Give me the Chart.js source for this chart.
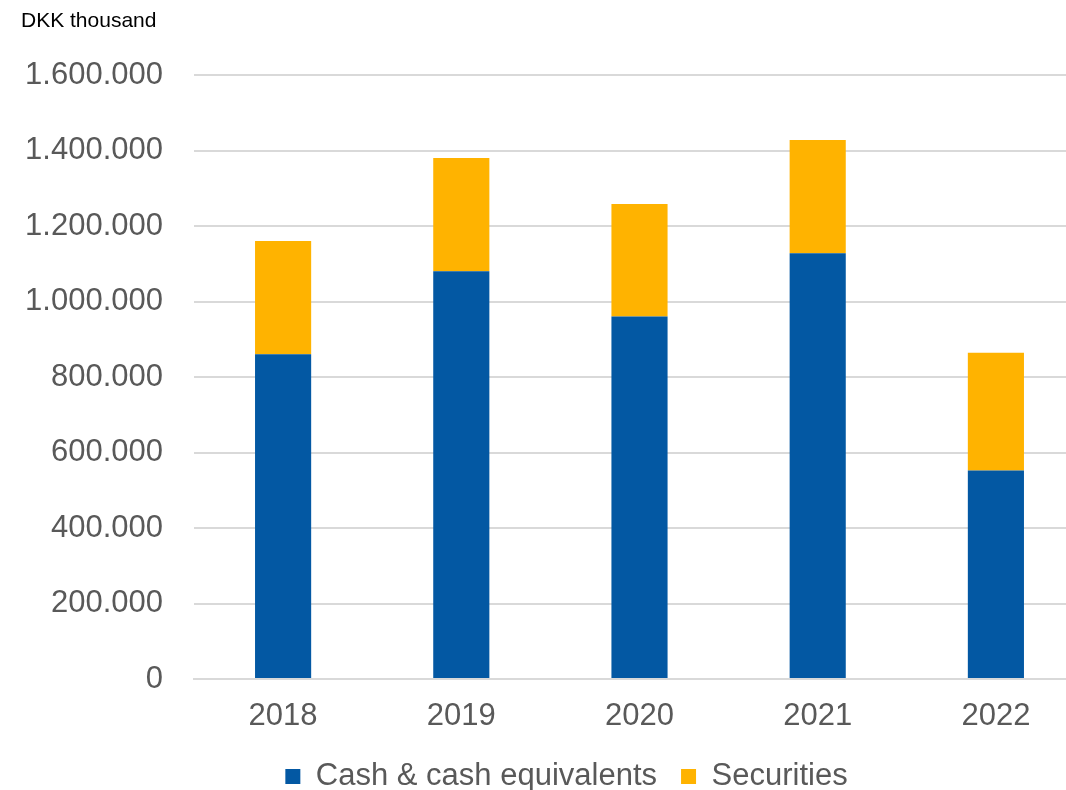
<!DOCTYPE html>
<html lang="en">
  <head>
    <meta charset="UTF-8" />
    <title>Cash and securities</title>
    <script src="https://cdn.jsdelivr.net/npm/chart.js"></script>
    <style>
      html,
      body {
        margin: 0;
        padding: 0;
        overflow: hidden;
        background: #ffffff;
      }
      #wrap {
        position: relative;
        width: 1085px;
        height: 790px;
      }
      #unit {
        position: absolute;
        left: 21px;
        top: 8px;
        font-family: "Liberation Sans", Arial, sans-serif;
        font-size: 21px;
        color: #000000;
      }
    </style>
  </head>
  <body>
    <div id="wrap">
      <canvas id="my-chart" width="1085" height="790"></canvas>
      <div id="unit">DKK thousand</div>
    </div>

    <script>
      const years = ["2018", "2019", "2020", "2021", "2022"];
      const cash = [860000, 1080000, 960000, 1128000, 552000];
      const securities = [300000, 300000, 298000, 300000, 312000];
      const yTicks = [0, 200000, 400000, 600000, 800000, 1000000, 1200000, 1400000, 1600000];

      // Danish style thousands separator
      function formatDK(value) {
        return String(value).replace(/\B(?=(\d{3})+(?!\d))/g, ".");
      }

      // nudge the legend a bit to the right, like in the original
      const legendShift = {
        id: "legendShift",
        afterLayout(chart) {
          chart.legend.left += 24;
          chart.legend.right += 24;
        },
      };

      const ctx = document.getElementById("my-chart").getContext("2d");
      const myChart = new Chart(ctx, {
        type: "bar",
        data: {
          labels: years,
          datasets: [
            {
              label: "Cash & cash equivalents",
              data: cash,
              backgroundColor: "#0358A3",
              barPercentage: 0.315,
              categoryPercentage: 1,
            },
            {
              label: "Securities",
              data: securities,
              backgroundColor: "#FFB300",
              barPercentage: 0.315,
              categoryPercentage: 1,
            },
          ],
        },
        options: {
          responsive: false,
          animation: false,
          layout: {
            padding: { left: 0, right: 0, top: 75, bottom: -12 },
          },
          plugins: {
            tooltip: { enabled: false },
            legend: {
              position: "bottom",
              labels: {
                boxWidth: 15,
                boxHeight: 15,
                padding: 24,
                color: "#595959",
                font: { family: "'Liberation Sans', Arial, sans-serif", size: 31 },
              },
            },
          },
          scales: {
            x: {
              stacked: true,
              afterFit: function (axis) {
                axis.height = 58;
              },
              grid: { display: false, drawTicks: false },
              border: { color: "#D9D9D9", width: 2 },
              ticks: {
                padding: 19,
                color: "#595959",
                font: { family: "'Liberation Sans', Arial, sans-serif", size: 31 },
              },
            },
            y: {
              stacked: true,
              min: 0,
              max: 1600000,
              afterBuildTicks: function (axis) {
                axis.ticks = yTicks.map((v) => ({ value: v }));
              },
              afterFit: function (axis) {
                axis.width = 194;
              },
              grid: { color: "#D9D9D9", lineWidth: 2, drawTicks: false },
              border: { display: false },
              ticks: {
                padding: 31,
                color: "#595959",
                font: { family: "'Liberation Sans', Arial, sans-serif", size: 31 },
                callback: function (value) {
                  return formatDK(value);
                },
              },
            },
          },
        },
        plugins: [legendShift],
      });
    </script>
  </body>
</html>
